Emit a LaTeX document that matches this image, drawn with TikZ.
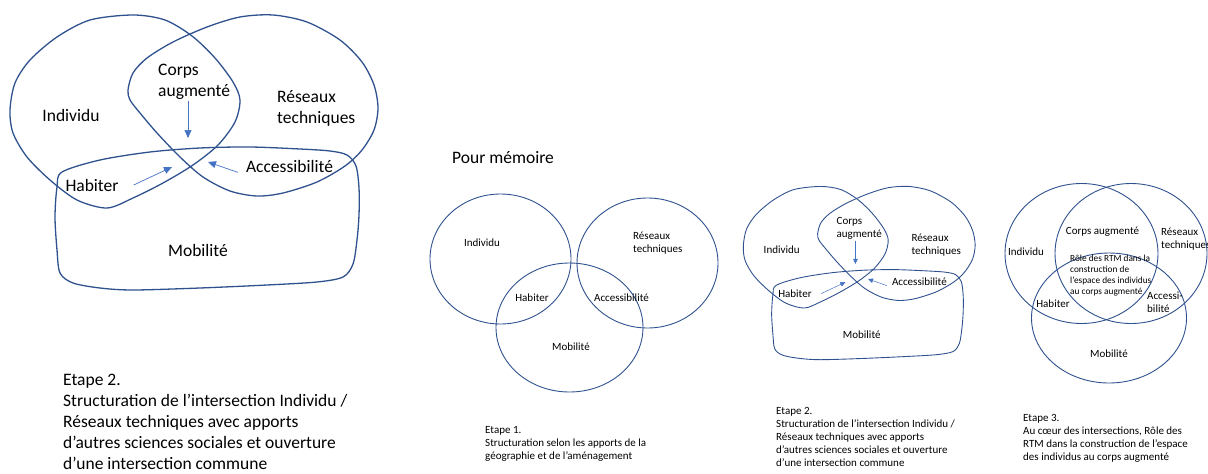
\documentclass[tikz,border=0pt]{standalone}
\usepackage{fontspec}
\setmainfont{Carlito}
\usepackage{xcolor}
\usepackage{tikz}
\usetikzlibrary{arrows.meta}

\definecolor{trait}{HTML}{2F528F}
\definecolor{fleche}{HTML}{4472C4}

\begin{document}
\begin{tikzpicture}[
  x=1pt, y=-1pt,
  contour/.style={
    draw=trait,
    line width=1.3pt
  },
  ovale/.style={
    draw=trait,
    line width=0.9pt
  },
  pointer/.style={
    -{Triangle[length=8pt, width=7pt]},
    draw=fleche,
    line width=0.7pt
  },
  grand/.style={
    inner sep=1pt,
    align=left,
    font=\fontsize{17.5}{21}\selectfont
  },
  petit/.style={
    inner sep=1pt,
    align=left,
    font=\fontsize{11}{13}\selectfont
  },
  minuscule/.style={
    inner sep=1pt,
    align=left,
    font=\fontsize{9.3}{11}\selectfont
  },
  etape/.pic={
    % Individu
    \draw[contour] plot[smooth cycle] coordinates {(10,110) (15,83) (30,60) (57,37) (90,20) (133,15) (165,20) (192,36) (215,58) (233,82) (240,100) (235,122) (218,145) (193,165) (163,183) (133,198) (107,208) (77,200) (50,180) (27,157) (13,133)};
    % Reseaux techniques
    \draw[contour] plot[smooth cycle] coordinates {(128,90) (133,73) (147,58) (173,42) (207,27) (240,17) (273,15) (307,22) (340,40) (362,62) (374,85) (378,108) (374,130) (362,150) (345,166) (317,182) (283,193) (257,196) (230,191) (203,177) (180,157) (157,133) (140,113) (130,100)};
    % Mobilite
    \draw[contour] plot[smooth cycle] coordinates {(57,187) (62,172) (100,160) (150,152) (200,148) (250,147) (300,149) (330,151) (347,155) (356,166) (359,188) (359,215) (357,240) (353,264) (343,277) (317,282) (267,285) (200,288) (133,290) (100,288) (73,283) (60,273) (57,250) (55,217)};
    % labels
    \node[grand] (-ind) at (71,115) {Individu};
    \node[grand, anchor=west] (-corps) at (157,82) {Corps\\augmenté};
    \node[grand, anchor=west] (-res) at (276,108) {Réseaux\\techniques};
    \node[grand, inner xsep=8pt, inner ysep=0pt] (-acc) at (289.5,166) {Accessibilité};
    \node[grand, inner xsep=15pt] (-hab) at (92,185) {Habiter};
    \node[grand] (-mob) at (198,250) {Mobilité};
    % pointers to the intersections
    \coordinate (-pc) at (188,138);
    \coordinate (-ph) at (172,167);
    \coordinate (-pa) at (208,162);
    \draw[pointer] (-corps.south -| -pc) -- (-pc);
    \draw[pointer] (-hab.east) -- (-ph);
    \draw[pointer] (-acc.south west) -- (-pa);
  }
]
\useasboundingbox (0,0) rectangle (1208,474);

% Etape 2, large version
\pic (big) at (0,0) {etape};
\node[grand, anchor=west] (etape2) at (62,422) {Etape 2.\\Structuration de l’intersection Individu /\\Réseaux techniques avec apports\\d’autres sciences sociales et ouverture\\d’une intersection commune};

\node[grand, anchor=west] (memo) at (451,158) {Pour mémoire};

% Etape 1
\draw[ovale] (500.5,259) ellipse [x radius=70.5, y radius=65];
\draw[ovale] (647.5,263) ellipse [x radius=70.5, y radius=65];
\draw[ovale] (569.5,327.5) ellipse [x radius=73.5, y radius=64.5];
\node[petit] (ind1) at (482,243) {Individu};
\node[petit, anchor=west] (res1) at (632,243) {Réseaux\\techniques};
\node[petit] (hab1) at (532,298) {Habiter};
\node[petit] (acc1) at (621.5,298) {Accessibilité};
\node[petit] (mob1) at (571,347) {Mobilité};
\node[petit, anchor=west] (cap1) at (484,444) {Etape 1.\\Structuration selon les apports de la\\géographie et de l’aménagement};

% Etape 2, small version
\pic[scale=0.63, transform shape,
  contour/.append style={line width=0.9pt},
  pointer/.append style={-{Triangle[length=5pt, width=4.5pt]}, line width=0.5pt}]
  (small) at (737,177) {etape};
\node[petit, anchor=west] (cap2) at (775,437) {Etape 2.\\Structuration de l’intersection Individu /\\Réseaux techniques avec apports\\d’autres sciences sociales et ouverture\\d’une intersection commune};

% Etape 3
\draw[ovale] (1081.5,253.5) ellipse [x radius=76.5, y radius=70];
\draw[ovale] (1131,253.5) ellipse [x radius=76, y radius=70];
\draw[ovale] (1109,318) ellipse [x radius=77.5, y radius=65];
\node[petit] (ind3) at (1026,252) {Individu};
\node[petit] (corps3) at (1102.5,232) {Corps augmenté};
\node[petit, anchor=west] (res3) at (1160,239) {Réseaux\\techniques};
\node[minuscule, anchor=west] (role3) at (1069,276) {Rôle des RTM dans la\\construction de\\l’espace des individus\\au corps augmenté};
\node[petit] (hab3) at (1053,304) {Habiter};
\node[petit, anchor=west] (acc3) at (1146,302.5) {Accessi-\\bilité};
\node[petit] (mob3) at (1109,354) {Mobilité};
\node[petit, anchor=west] (cap3) at (1022,438.5) {Etape 3.\\Au cœur des intersections, Rôle des\\RTM dans la construction de l’espace\\des individus au corps augmenté};
\end{tikzpicture}
\end{document}
